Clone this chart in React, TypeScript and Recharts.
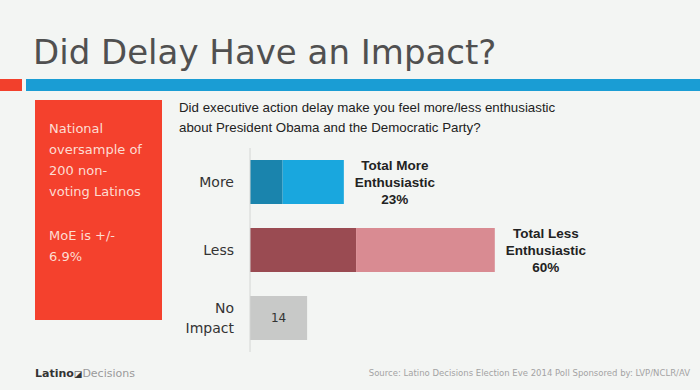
import { Bar, BarChart, Cell, LabelList, XAxis, YAxis } from "recharts";

const categories = ["More", "Less", "No Impact"];
const strongValues = [8, 26, 14];
const somewhatValues = [15, 34, 0];
const totals = [23, 60, 14];
const noteLines = [["Total More", "Enthusiastic"], ["Total Less", "Enthusiastic"], []];
const insideLabels = ["", "", "14"];

const darkColors = ["#1a84ad", "#9a4b52", "#c8c9c8"];
const lightColors = ["#19a7de", "#d98b92", "#c8c9c8"];

const rows = categories.map((name, i) => ({
  name,
  strong: strongValues[i],
  somewhat: somewhatValues[i],
  inside: insideLabels[i],
  note: noteLines[i].length ? [...noteLines[i], `${totals[i]}%`].join("|") : "",
}));

const gothic = "'DejaVu Sans', sans-serif";
const arial = "'Liberation Sans', Arial, sans-serif";

function CategoryTick({ x, y, payload }: any) {
  const lines = payload.value === "No Impact" ? ["No", "Impact"] : [payload.value];
  const step = 20;
  const start = y - ((lines.length - 1) * step) / 2;
  return (
    <text x={x} y={start} textAnchor="end" fill="#333" fontSize={14} fontFamily={gothic}>
      {lines.map((l, i) => (
        <tspan key={l} x={x} y={start + i * step} dominantBaseline="central">
          {l}
        </tspan>
      ))}
    </text>
  );
}

function InsideLabel({ x, y, width, height, value }: any) {
  if (!value) return null;
  return (
    <text
      x={x + width / 2}
      y={y + height / 2}
      textAnchor="middle"
      dominantBaseline="central"
      fill="#333"
      fontSize={12}
      fontFamily={gothic}
    >
      {value}
    </text>
  );
}

function NoteLabel({ x, y, width, height, value }: any) {
  if (!value) return null;
  const lines = String(value).split("|");
  const cx = x + width + 7 + 44;
  const cy = y + height / 2;
  const step = 17;
  return (
    <text textAnchor="middle" fill="#222" fontSize={13.5} fontWeight="bold" fontFamily={arial}>
      {lines.map((l, i) => (
        <tspan key={i} x={cx} y={cy + (i - 1) * step} dominantBaseline="central">
          {l}
        </tspan>
      ))}
    </text>
  );
}

export default function App() {
  return (
    <div
      style={{
        position: "fixed",
        left: 0,
        top: 0,
        width: 700,
        height: 390,
        background: "#f3f5f3",
        overflow: "hidden",
      }}
    >
      <div
        style={{
          position: "absolute",
          left: 33,
          top: 30,
          fontFamily: gothic,
          fontSize: 34,
          color: "#505050",
          whiteSpace: "nowrap",
          lineHeight: "44px",
        }}
      >
        Did Delay Have an Impact?
      </div>
      <div style={{ position: "absolute", left: 0, top: 79, width: 22, height: 12, background: "#f2402c" }} />
      <div style={{ position: "absolute", left: 26, top: 79, width: 674, height: 12, background: "#1a9dd4" }} />
      <div
        style={{
          position: "absolute",
          left: 35,
          top: 100,
          width: 127,
          height: 220,
          background: "#f4412d",
          color: "#fddcd2",
          fontFamily: gothic,
          fontSize: 13,
          lineHeight: "21px",
          boxSizing: "border-box",
          padding: "18px 0 0 14px",
        }}
      >
        <div>National</div>
        <div>oversample of</div>
        <div>200 non-</div>
        <div>voting Latinos</div>
        <div style={{ marginTop: 23 }}>MoE is +/-</div>
        <div>6.9%</div>
      </div>
      <div
        style={{
          position: "absolute",
          left: 179,
          top: 98,
          fontFamily: arial,
          fontSize: 13.3,
          lineHeight: "20px",
          color: "#222",
          whiteSpace: "nowrap",
        }}
      >
        <div>Did executive action delay make you feel more/less enthusiastic</div>
        <div>about President Obama and the Democratic Party?</div>
      </div>
      <div style={{ position: "absolute", left: 0, top: 0 }}>
        <BarChart
          width={700}
          height={390}
          data={rows}
          layout="vertical"
          margin={{ top: 148, right: 42, bottom: 38, left: 170 }}
          barSize={44}
        >
          <XAxis type="number" domain={[0, 100]} hide />
          <YAxis
            type="category"
            dataKey="name"
            width={80}
            axisLine={{ stroke: "#d4d6d4" }}
            tickLine={false}
            tickSize={0}
            tickMargin={16}
            tick={<CategoryTick />}
          />
          <Bar dataKey="strong" stackId="a" isAnimationActive={false}>
            {rows.map((r, i) => (
              <Cell key={r.name} fill={darkColors[i]} />
            ))}
            <LabelList dataKey="inside" content={<InsideLabel />} />
          </Bar>
          <Bar dataKey="somewhat" stackId="a" isAnimationActive={false}>
            {rows.map((r, i) => (
              <Cell key={r.name} fill={lightColors[i]} />
            ))}
            <LabelList dataKey="note" content={<NoteLabel />} />
          </Bar>
        </BarChart>
      </div>
      <div
        style={{
          position: "absolute",
          left: 35,
          top: 367,
          fontFamily: gothic,
          fontSize: 11,
          whiteSpace: "nowrap",
        }}
      >
        <span style={{ color: "#333", fontWeight: "bold" }}>Latino</span>
        <span style={{ color: "#333", fontSize: 9 }}>◪</span>
        <span style={{ color: "#9a9a9a" }}>Decisions</span>
      </div>
      <div
        style={{
          position: "absolute",
          right: 10,
          top: 368,
          fontFamily: gothic,
          fontSize: 8.5,
          color: "#a3a3a3",
          whiteSpace: "nowrap",
        }}
      >
        Source: Latino Decisions Election Eve 2014 Poll Sponsored by: LVP/NCLR/AV
      </div>
    </div>
  );
}
